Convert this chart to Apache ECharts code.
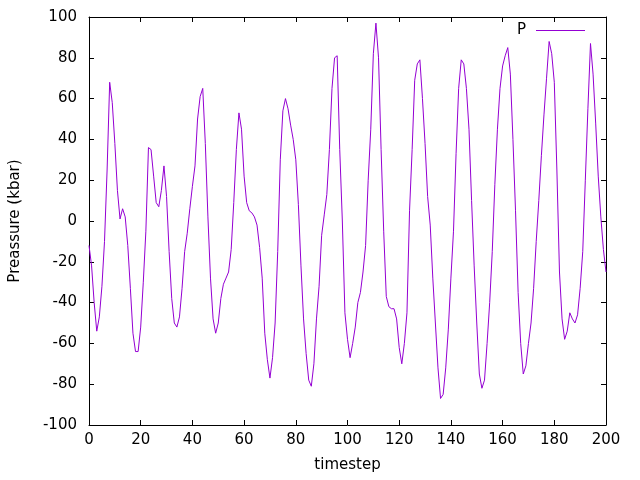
<!DOCTYPE html>
<html>
<head>
<meta charset="utf-8">
<script src="https://cdn.jsdelivr.net/npm/echarts@6/dist/echarts.min.js"></script>
<style>
  html, body { margin: 0; padding: 0; background: #fff; }
  #container { width: 640px; height: 480px; }
</style>
</head>
<body>
<div id="container"></div>
<script>
// pressure (kbar) for timestep 0..200
var pressure = [
  -12, -22, -40, -54, -47, -32, -10, 25, 68, 58,
  38, 15, 1, 6, 2, -12, -33, -55, -64, -64,
  -52, -30, -5, 36, 35, 22, 9, 7, 15, 27,
  12, -15, -38, -50, -52, -47, -33, -15, -6, 6,
  17, 27, 50, 61, 65, 38, 2, -28, -48, -55,
  -50, -38, -31, -28, -25, -14, 9, 35, 53, 45,
  22, 9, 5, 4, 2, -2, -13, -28, -55, -68,
  -77, -67, -50, -15, 30, 54, 60, 55, 47, 40,
  30, 8, -22, -48, -65, -78, -81, -70, -48, -32,
  -7, 3, 13, 35, 65, 80, 81, 35, 0, -45,
  -58, -67, -60, -52, -40, -35, -25, -12, 20, 45,
  82, 97, 80, 35, -5, -37, -42, -43, -43, -48,
  -62, -70, -60, -45, 5, 35, 69, 77, 79, 60,
  38, 12, -2, -28, -50, -72, -87, -85, -72, -53,
  -28, -5, 33, 65, 79, 77, 65, 45, 10, -22,
  -50, -75, -82, -78, -60, -40, -15, 18, 45, 65,
  76, 81, 85, 72, 40, 5, -35, -60, -75, -71,
  -60, -50, -33, -10, 10, 32, 52, 70, 88, 82,
  68, 25, -25, -48, -58, -54, -45, -48, -50, -46,
  -33, -15, 20, 55, 87, 72, 48, 22, 2, -14,
  -25
];

var xMin = 0, xMax = 200, xStep = 20;
var yMin = -100, yMax = 100, yStep = 20;

var points = [];
for (var i = 0; i < pressure.length; i++) {
    points.push([i, pressure[i]]);
}

var font = 'DejaVu Sans';
var tick = { show: true, inside: true, length: 5, lineStyle: { color: '#000', width: 1 } };
var axLine = { show: true, onZero: false, lineStyle: { color: '#000', width: 1 } };

var option = {
    backgroundColor: '#fff',
    animation: false,
    grid: { left: 89, right: 34, top: 17, bottom: 55 },
    legend: {
        right: 50,
        top: 18,
        align: 'right',
        icon: 'rect',
        itemWidth: 49,
        itemHeight: 1,
        itemGap: 0,
        textStyle: { fontFamily: font, fontSize: 15, color: '#000', padding: [0, 5, 0, 0] },
        data: ['P']
    },
    xAxis: [{
        type: 'value',
        min: xMin, max: xMax, interval: xStep,
        name: 'timestep',
        nameLocation: 'middle',
        nameGap: 33,
        nameTextStyle: { fontFamily: font, fontSize: 15, color: '#000' },
        axisLine: axLine,
        axisTick: tick,
        axisLabel: { fontFamily: font, fontSize: 15, color: '#000', margin: 8 },
        splitLine: { show: false }
    }, {
        type: 'value',
        position: 'top',
        min: xMin, max: xMax, interval: xStep,
        axisLine: axLine,
        axisTick: tick,
        axisLabel: { show: false },
        splitLine: { show: false }
    }],
    yAxis: [{
        type: 'value',
        min: yMin, max: yMax, interval: yStep,
        name: 'Preassure (kbar)',
        nameLocation: 'middle',
        nameRotate: 90,
        nameGap: 66,
        nameTextStyle: { fontFamily: font, fontSize: 15, color: '#000' },
        axisLine: axLine,
        axisTick: tick,
        axisLabel: { fontFamily: font, fontSize: 15, color: '#000', margin: 12 },
        splitLine: { show: false }
    }, {
        type: 'value',
        position: 'right',
        min: yMin, max: yMax, interval: yStep,
        axisLine: axLine,
        axisTick: tick,
        axisLabel: { show: false },
        splitLine: { show: false }
    }],
    series: [{
        name: 'P',
        type: 'line',
        data: points,
        symbol: 'none',
        color: '#9400D3',
        lineStyle: { color: '#9400D3', width: 1 }
    }]
};

var myChart = echarts.init(document.getElementById('container'));
myChart.setOption(option);
</script>
</body>
</html>
